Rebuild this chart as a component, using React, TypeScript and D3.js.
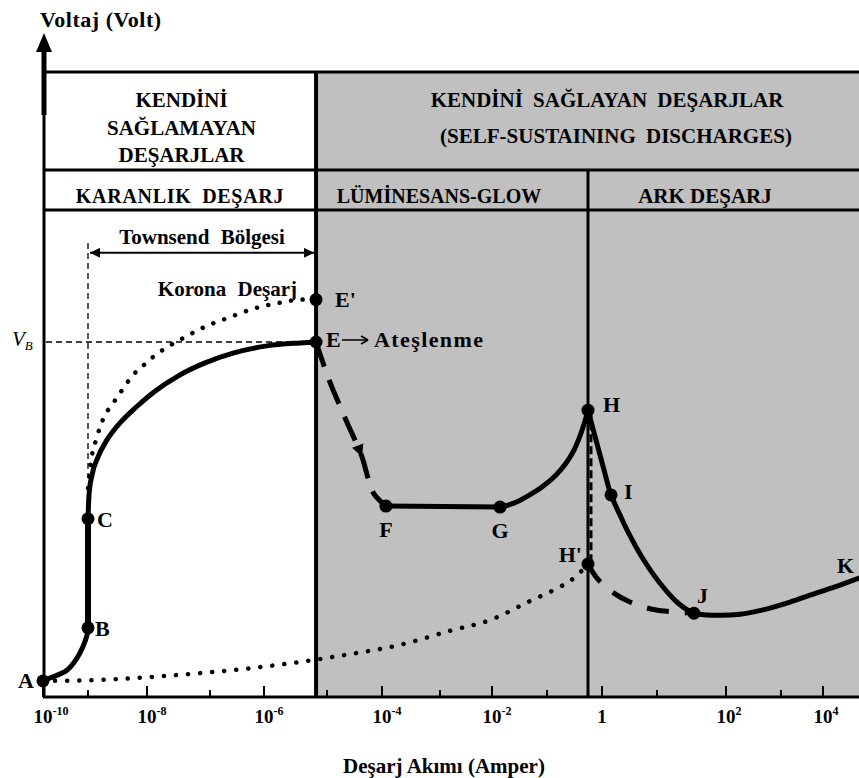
import React from "react";
import * as d3 from "d3";

type P = [number, number];

// ---- axis data ----
const decadeExponents = d3.range(-10, 6);
const tickValues = [1e-10, 1e-8, 1e-6, 1e-4, 1e-2, 1, 1e2, 1e4];
const tickBase = ["10", "10", "10", "10", "10", "1", "10", "10"];
const tickSups = ["-10", "-8", "-6", "-4", "-2", "", "2", "4"];
const minorTickValues = [1e-9, 1e-7, 1e-5, 1e-3, 1e-1, 10, 1e3];

// ---- regime boundaries / reference levels ----
const ignitionCurrent = 6.7e-6; // E
const arcCurrent = 0.556; // H
const breakdownVoltage = 72.9; // V_B
const townsendStart = 1e-9;
const townsendLevel = 91.2;
const townsendGuideTop = 93.2;
const townsendGuideBottom = 45;

// ---- curves [current (A), voltage (rel.)] ----
const darkRise: P[] = [
  [1e-10, 3.3], [1.43e-10, 3.9], [3.4e-10, 5.5], [5.7e-10, 8.0],
  [7.7e-10, 10.3], [9.5e-10, 12.7], [1e-9, 14.2],
];
const saturation: P[] = [[1e-9, 14.2], [1e-9, 36.6]];
const townsendCurve: P[] = [
  [1e-9, 36.6], [1.04e-9, 41.5], [1.17e-9, 45.6], [1.48e-9, 49.3],
  [2.1e-9, 52.8], [3.49e-9, 56.3], [6.51e-9, 59.5], [1.34e-8, 62.8],
  [3.1e-8, 65.9], [8.33e-8, 68.6], [2.67e-7, 70.6], [1.12e-6, 72.1],
  [3.73e-6, 72.7], [6.7e-6, 72.9],
];
const coronaCurve: P[] = [
  [1e-9, 42.9], [1.08e-9, 46.6], [1.17e-9, 49.7], [1.37e-9, 52.8],
  [1.6e-9, 55.4], [1.94e-9, 57.9], [2.55e-9, 60.0], [3.77e-9, 63.0],
  [5.79e-9, 66.1], [8.55e-9, 68.0], [1.24e-8, 69.8], [1.8e-8, 71.3],
  [4.01e-8, 73.9], [8.96e-8, 76.2], [2.35e-7, 78.0], [6.25e-7, 79.7],
  [1.67e-6, 80.9], [4.16e-6, 81.6], [6.7e-6, 81.6],
];
const ignitionDrop: P[] = [
  [6.7e-6, 72.9], [1.09e-5, 65.1], [2.21e-5, 56.9], [4.33e-5, 49.3],
  [5.56e-5, 45.0], [7.16e-5, 41.7], [1.17e-4, 39.2],
];
const normalGlow: P[] = [[1.17e-4, 39.2], [0.014, 39.0]];
const abnormalGlow: P[] = [
  [0.014, 39.0], [0.0251, 39.8], [0.0452, 41.3], [0.081, 43.1],
  [0.146, 45.6], [0.221, 48.0], [0.31, 50.7], [0.398, 53.6],
  [0.491, 56.7], [0.556, 58.9],
];
const arcCurve: P[] = [
  [0.556, 58.9], [0.778, 52.8], [1.09, 46.6], [1.46, 41.5], [2.12, 37.4],
  [2.97, 33.9], [5.34, 28.7], [11.0, 23.4], [20.1, 19.3], [34.4, 17.2],
  [74.1, 16.8], [180, 17.0], [471, 17.9], [1640, 19.5], [4900, 20.9],
  [16500, 22.6], [45200, 24.4],
];
const glowToArcDrop: P[] = [[0.556, 58.9], [0.556, 27.3]];
const transitionToArc: P[] = [
  [0.556, 27.3], [0.81, 24.4], [1.52, 21.6], [3.23, 19.5], [9.2, 17.9],
  [34.4, 17.2],
];
const leakageCurve: P[] = [
  [1e-10, 3.3], [1.6e-9, 3.5], [1.12e-8, 4.1], [6.94e-8, 4.9],
  [5.5e-7, 5.9], [3.73e-6, 7.2], [2.62e-5, 8.8], [2.04e-4, 10.7],
  [1.56e-3, 13.6], [9.2e-3, 15.8], [0.0452, 19.5], [0.172, 22.6],
  [0.323, 24.6], [0.556, 27.3],
];

// ---- labelled points ----
const pointNames = ["A", "B", "C", "E", "E'", "F", "G", "H", "I", "H'", "J"];
const pointCurrents = [1e-10, 1e-9, 1e-9, 6.7e-6, 6.7e-6, 1.17e-4, 0.014, 0.556, 1.46, 0.556, 34.4];
const pointVoltages = [3.3, 14.2, 36.6, 72.9, 81.6, 39.2, 39.0, 58.9, 41.5, 27.3, 17.2];
const endLabel = "K";
const endPoint: P = [45200, 24.4];

// ---- texts ----
const yTitle = "Voltaj (Volt)";
const xTitle = "Deşarj Akımı (Amper)";
const nonSelfLines = ["KENDİNİ", "SAĞLAMAYAN", "DEŞARJLAR"];
const selfLines = ["KENDİNİ SAĞLAYAN DEŞARJLAR", "(SELF-SUSTAINING DISCHARGES)"];
const darkLabel = "KARANLIK DEŞARJ";
const glowLabel = "LÜMİNESANS-GLOW";
const arcLabel = "ARK DEŞARJ";
const townsendLabel = "Townsend Bölgesi";
const coronaLabel = "Korona Deşarj";
const ignitionLabel = "Ateşlenme";

const FONT = "'Liberation Serif', 'Times New Roman', serif";

export default function App() {
  const W = 859;
  const H = 778;
  const left = 43;
  const right = 859;
  const headTop = 72;
  const headMid = 170;
  const plotTop = 210;
  const plotBottom = 697;

  const x = d3
    .scaleLog()
    .domain(decadeExponents.map((e) => Math.pow(10, e)))
    .range([43, 88, 147, 210, 264, 327, 382, 440, 492, 547, 602, 657, 726, 781, 823, 878]);
  const y = d3.scaleLinear().domain([0, 100]).range([plotBottom, plotTop]);

  const line = d3
    .line<P>()
    .x((d) => x(d[0]))
    .y((d) => y(d[1]))
    .curve(d3.curveCatmullRom.alpha(0.5));
  const smooth = d3
    .line<P>()
    .x((d) => x(d[0]))
    .y((d) => y(d[1]))
    .curve(d3.curveMonotoneX);
  const straight = d3
    .line<P>()
    .x((d) => x(d[0]))
    .y((d) => y(d[1]));

  const xE = x(ignitionCurrent);
  const xH = x(arcCurrent);

  // arrowhead on ignition drop
  const a0 = ignitionDrop[2];
  const a1 = ignitionDrop[3];
  const a2 = ignitionDrop[4];
  const ang =
    (Math.atan2(y(a2[1]) - y(a0[1]), x(a2[0]) - x(a0[0])) * 180) / Math.PI;

  const labelPos: Record<string, { dx: number; dy: number; anchor: string }> = {
    A: { dx: -9, dy: 7, anchor: "end" },
    B: { dx: 7, dy: 8, anchor: "start" },
    C: { dx: 9, dy: 8, anchor: "start" },
    E: { dx: 10, dy: 5, anchor: "start" },
    "E'": { dx: 19, dy: 7, anchor: "start" },
    F: { dx: 0, dy: 31, anchor: "middle" },
    G: { dx: 0, dy: 31, anchor: "middle" },
    H: { dx: 15, dy: 2, anchor: "start" },
    I: { dx: 13, dy: 4, anchor: "start" },
    "H'": { dx: -6, dy: -2, anchor: "end" },
    J: { dx: 3, dy: -10, anchor: "start" },
  };

  const sw = 5;
  const eX = xE + labelPos.E.dx;
  const eY = y(breakdownVoltage) + labelPos.E.dy;

  return (
    <div style={{ position: "absolute", left: 0, top: 0 }}>
      <svg width={W} height={H} style={{ display: "block", background: "#fff" }} fontFamily={FONT}>
        <defs>
          <marker id="ah" viewBox="0 0 10 10" refX="10" refY="5" markerWidth="12" markerHeight="10" markerUnits="userSpaceOnUse" orient="auto-start-reverse">
            <path d="M0,0 L10,5 L0,10 z" fill="#000" />
          </marker>
          <clipPath id="plotClip">
            <rect x={left} y={headTop} width={right - left} height={plotBottom - headTop} />
          </clipPath>
        </defs>

        {/* gray self-sustaining region */}
        <rect x={xE} y={headTop} width={right - xE} height={plotBottom - headTop} fill="#c0c0c0" />

        {/* table lines */}
        <line x1={left} x2={right} y1={headTop} y2={headTop} stroke="#000" strokeWidth={3} />
        <line x1={left} x2={right} y1={headMid} y2={headMid} stroke="#000" strokeWidth={3} />
        <line x1={left} x2={right} y1={plotTop} y2={plotTop} stroke="#000" strokeWidth={3} />
        <line x1={left + 1} x2={left + 1} y1={headTop} y2={plotBottom} stroke="#000" strokeWidth={3} />
        <line x1={xE} x2={xE} y1={headTop} y2={plotBottom} stroke="#000" strokeWidth={4} />
        <line x1={xH} x2={xH} y1={headMid} y2={plotBottom} stroke="#000" strokeWidth={3} />

        {/* y-axis arrow */}
        <line x1={left + 1} x2={left + 1} y1={50} y2={115} stroke="#000" strokeWidth={5} />
        <path d={`M${left + 1},33 L${left + 9},52 L${left - 7},52 Z`} fill="#000" />
        <text x={40} y={27} fontSize={22} fontWeight="bold" letterSpacing={0.5}>{yTitle}</text>

        {/* header texts */}
        {nonSelfLines.map((t, i) => (
          <text key={t} x={(left + xE) / 2 + 2} y={107 + i * 27.5} fontSize={21} fontWeight="bold" textAnchor="middle">{t}</text>
        ))}
        <text x={607} y={107} fontSize={21} fontWeight="bold" textAnchor="middle" wordSpacing={5}>{selfLines[0]}</text>
        <text x={616} y={143} fontSize={21} fontWeight="bold" textAnchor="middle" wordSpacing={5}>{selfLines[1]}</text>
        <text x={180} y={203} fontSize={20} fontWeight="bold" textAnchor="middle" wordSpacing={5} letterSpacing={0.7}>{darkLabel}</text>
        <text x={439} y={203} fontSize={20} fontWeight="bold" textAnchor="middle">{glowLabel}</text>
        <text x={705} y={203} fontSize={21} fontWeight="bold" textAnchor="middle">{arcLabel}</text>

        {/* x axis */}
        <line x1={left} x2={right} y1={plotBottom} y2={plotBottom} stroke="#000" strokeWidth={3} />
        {tickValues.map((v) => (
          <line key={"t" + v} x1={x(v)} x2={x(v)} y1={plotBottom} y2={plotBottom - 11} stroke="#000" strokeWidth={2} />
        ))}
        {minorTickValues.map((v) => (
          <line key={"m" + v} x1={x(v)} x2={x(v)} y1={plotBottom} y2={plotBottom - 7} stroke="#000" strokeWidth={2} />
        ))}
        {tickValues.map((v, i) => (
          <g key={"l" + v}>
            <text x={x(v)} y={723} fontSize={19} fontWeight="bold" textAnchor="middle">{tickBase[i]}</text>
            {tickSups[i] && (
              <text x={x(v) + 9.5} y={715} fontSize={12} fontWeight="bold">{tickSups[i]}</text>
            )}
          </g>
        ))}
        <text x={444} y={773} fontSize={21} fontWeight="bold" textAnchor="middle">{xTitle}</text>

        {/* guides */}
        <line x1={left + 3} x2={xE} y1={y(breakdownVoltage)} y2={y(breakdownVoltage)} stroke="#000" strokeWidth={1.3} strokeDasharray="6,4" />
        <line x1={x(townsendStart)} x2={x(townsendStart)} y1={y(townsendGuideTop)} y2={y(townsendGuideBottom)} stroke="#000" strokeWidth={1.3} strokeDasharray="6,4" />
        <line x1={x(townsendStart) + 2} x2={xE - 2} y1={y(townsendLevel)} y2={y(townsendLevel)} stroke="#000" strokeWidth={2} markerStart="url(#ah)" markerEnd="url(#ah)" />
        <text x={202} y={244} fontSize={21} fontWeight="bold" textAnchor="middle" wordSpacing={6}>{townsendLabel}</text>
        <text x={xE - 19} y={y(pointVoltages[4]) - 4} fontSize={21} fontWeight="bold" textAnchor="end" wordSpacing={6}>{coronaLabel}</text>
        <text x={12} y={y(breakdownVoltage) + 4} fontSize={21} fontStyle="italic">
          V<tspan fontSize={13} dy={4}>B</tspan>
        </text>

        <g clipPath="url(#plotClip)" fill="none" stroke="#000">
          {/* dotted */}
          <path d={line(leakageCurve) || ""} strokeWidth={4.5} strokeDasharray="0.1,12" strokeLinecap="round" />
          <path d={smooth(coronaCurve) || ""} strokeWidth={4.5} strokeDasharray="0.1,11.5" strokeLinecap="round" />
          {/* dashed */}
          <path d={line(ignitionDrop) || ""} strokeWidth={5} strokeDasharray="26,14" />
          <path d={line(transitionToArc) || ""} strokeWidth={5} strokeDasharray="22,16" />
          <path d={straight(glowToArcDrop) || ""} strokeWidth={3} strokeDasharray="8,4" transform="translate(3,0)" />
          {/* solid */}
          <path d={line(darkRise) || ""} strokeWidth={sw} strokeLinecap="round" />
          <path d={straight(saturation) || ""} strokeWidth={sw + 1} />
          <path d={smooth(townsendCurve) || ""} strokeWidth={sw} strokeLinecap="round" />
          <path d={straight(normalGlow) || ""} strokeWidth={sw} />
          <path d={line(abnormalGlow) || ""} strokeWidth={sw} strokeLinecap="round" />
          <path d={line(arcCurve) || ""} strokeWidth={sw} strokeLinecap="round" />
        </g>
        <path
          d="M0,0 L-12,-6 L-12,6 Z"
          fill="#000"
          transform={`translate(${x(a1[0])},${y(a1[1])}) rotate(${ang})`}
        />

        {/* points */}
        {pointNames.map((n, i) => (
          <circle key={"p" + n} cx={x(pointCurrents[i])} cy={y(pointVoltages[i])} r={6.5} fill="#000" />
        ))}
        {pointNames.map((n, i) => {
          const lp = labelPos[n];
          const px = x(pointCurrents[i]) + lp.dx;
          const py = y(pointVoltages[i]) + lp.dy;
          if (n === "E") return null;
          return (
            <text key={"n" + n} x={px} y={py} fontSize={22} fontWeight="bold" textAnchor={lp.anchor}>
              {n}
            </text>
          );
        })}
        {/* E -> Ateşlenme */}
        <text x={eX} y={eY} fontSize={22} fontWeight="bold">E</text>
        <line x1={eX + 16} x2={eX + 40} y1={eY - 7} y2={eY - 7} stroke="#000" strokeWidth={1.5} />
        <path d={`M${eX + 42},${eY - 7} L${eX + 35},${eY - 11} M${eX + 42},${eY - 7} L${eX + 35},${eY - 3}`} stroke="#000" strokeWidth={1.5} fill="none" />
        <text x={eX + 48} y={eY} fontSize={22} fontWeight="bold" letterSpacing={1.4}>{ignitionLabel}</text>
        <text x={x(endPoint[0]) - 22} y={y(endPoint[1]) - 5} fontSize={22} fontWeight="bold">{endLabel}</text>
      </svg>
    </div>
  );
}
